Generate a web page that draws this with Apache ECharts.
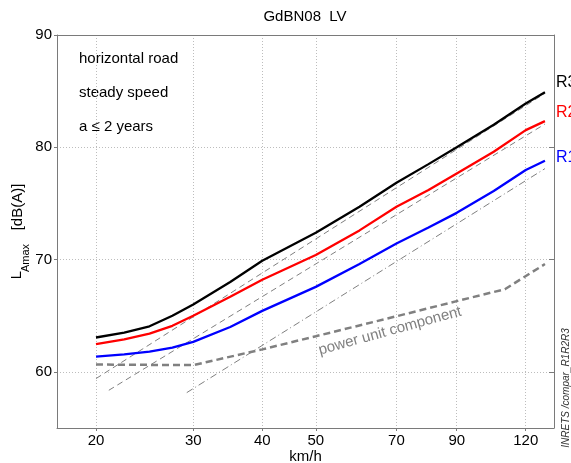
<!DOCTYPE html>
<html>
<head>
<meta charset="utf-8">
<title>GdBN08 LV</title>
<script src="https://cdn.jsdelivr.net/npm/echarts@6.0.0/dist/echarts.min.js"></script>
<style>
  html, body { margin: 0; padding: 0; background: #fff; }
  #chart { width: 571px; height: 463px; }
</style>
</head>
<body>
<div id="chart"></div>
<script>
// speeds (km/h) where the three road curves were read
const speeds = [20, 22.5, 25, 27.5, 30, 35, 40, 50, 60, 70, 80, 90, 105, 120, 130];
const r3 = [63.06, 63.5, 64.06, 65.0, 66.0, 68.0, 69.9, 72.38, 74.7, 76.84, 78.5, 80.0, 82.0, 83.9, 84.9];
const r2 = [62.46, 62.9, 63.4, 64.1, 65.0, 66.68, 68.2, 70.4, 72.6, 74.7, 76.2, 77.67, 79.6, 81.53, 82.33];
const r1 = [61.36, 61.55, 61.8, 62.15, 62.67, 64.0, 65.43, 67.57, 69.6, 71.43, 72.85, 74.16, 76.1, 77.97, 78.8];

// power unit component
const powerSpeeds = [20, 30, 40, 50, 70, 90, 110, 130];
const power = [60.65, 60.6, 62.0, 63.17, 64.95, 66.3, 67.36, 69.6];

// rolling noise asymptotes (thin grey lines)
const rollSpeedsR3 = [20, 130];
const rollR3 = [59.4, 84.8];
const rollSpeedsR2 = [21.1, 130];
const rollR2 = [58.36, 82.07];
const rollSpeedsR1 = [29.2, 130];
const rollR1 = [58.15, 78.1];

const xTicks = [20, 30, 40, 50, 70, 90, 120];
const yTicks = [60, 70, 80, 90];

const FONT = 'Liberation Sans, Arial, sans-serif';
const GREY = '#808080';
const AXIS = '#7a7a7a';
const GRID = '#bdbdbd';

const pairs = (xs, ys) => xs.map((x, i) => [x, ys[i]]);

const thin = (name, xs, ys, type) => ({
  name: name,
  type: 'line',
  data: pairs(xs, ys),
  symbol: 'none',
  silent: true,
  lineStyle: { color: GREY, width: 1, type: type },
  z: 1,
});

const curve = (name, ys, color) => ({
  name: name,
  type: 'line',
  data: pairs(speeds, ys),
  symbol: 'none',
  lineStyle: { color: color, width: 2.3 },
  z: 3,
});

const label = (text, x, y, opts) => ({
  type: 'text',
  x: x,
  y: y,
  rotation: (opts && opts.rotation) || 0,
  style: {
    text: text,
    fill: (opts && opts.color) || '#000',
    fontSize: (opts && opts.size) || 15,
    fontFamily: FONT,
    fontStyle: (opts && opts.italic) ? 'italic' : 'normal',
    textAlign: (opts && opts.align) || 'left',
    align: (opts && opts.align) || 'left',
    textVerticalAlign: 'middle',
    verticalAlign: 'middle',
  },
});

const chart = echarts.init(document.getElementById('chart'));

const option = {
  animation: false,
  backgroundColor: '#fff',
  textStyle: { fontFamily: FONT },
  grid: { left: 57, right: 17, top: 35, bottom: 35, outerBoundsMode: 'none' },
  xAxis: [
    {
      type: 'log',
      logBase: 10,
      min: 17,
      max: 135,
      name: 'km/h',
      nameLocation: 'middle',
      nameGap: 21,
      nameMoveOverlap: false,
      nameTextStyle: { color: '#000', fontSize: 15, fontFamily: FONT },
      axisLine: { onZero: false, lineStyle: { color: AXIS } },
      axisTick: { customValues: xTicks, length: 3, lineStyle: { color: AXIS } },
      axisLabel: { customValues: xTicks, color: '#000', fontSize: 15, fontFamily: FONT, margin: 5 },
      // split lines follow the custom tick values
      splitLine: { show: true, lineStyle: { color: GRID, type: [1, 2], width: 1 } },
      minorTick: { show: false },
      minorSplitLine: { show: false },
    },
    {
      type: 'log',
      logBase: 10,
      min: 17,
      max: 135,
      position: 'top',
      axisLine: { onZero: false, lineStyle: { color: AXIS } },
      axisTick: { show: false },
      axisLabel: { show: false },
      splitLine: { show: false },
    },
  ],
  yAxis: [
    {
      type: 'value',
      min: 55,
      max: 90,
      axisLine: { show: true, onZero: false, lineStyle: { color: AXIS } },
      axisTick: { show: true, customValues: yTicks, length: 3, lineStyle: { color: AXIS } },
      axisLabel: { customValues: yTicks, color: '#000', fontSize: 15, fontFamily: FONT, margin: 5 },
      splitLine: { show: true, lineStyle: { color: GRID, type: [1, 2] } },
    },
    {
      type: 'value',
      min: 55,
      max: 90,
      position: 'right',
      axisLine: { show: true, onZero: false, lineStyle: { color: AXIS } },
      axisTick: { show: true, inside: true, customValues: yTicks, length: 5, lineStyle: { color: AXIS } },
      axisLabel: { show: false },
      splitLine: { show: false },
    },
  ],
  series: [
    thin('asym R3', rollSpeedsR3, rollR3, [6, 4]),
    thin('asym R2', rollSpeedsR2, rollR2, [6, 4]),
    thin('asym R1', rollSpeedsR1, rollR1, [7, 3, 1, 3]),
    {
      name: 'power unit component',
      type: 'line',
      data: pairs(powerSpeeds, power),
      symbol: 'none',
      silent: true,
      lineStyle: { color: GREY, width: 2.5, type: [7, 4] },
      z: 2,
    },
    curve('R1', r1, '#0000ff'),
    curve('R2', r2, '#ff0000'),
    curve('R3', r3, '#000000'),
  ],
  graphic: [
    label('GdBN08  LV', 305, 17, { align: 'center' }),
    label('horizontal road', 79, 59),
    label('steady speed', 79, 93),
    label('a \u2264 2 years', 79, 126.5),
    label('R3', 556, 82.5, { size: 16 }),
    label('R2', 556, 112.5, { size: 16, color: '#ff0000' }),
    label('R1', 556, 157.5, { size: 16, color: '#0000ff' }),
    label('power unit component', 390, 331, { align: 'center', color: GREY, rotation: 0.27 }),
    // y axis title: L with subscript Amax
    label('L', 16.5, 275, { align: 'center', rotation: Math.PI / 2 }),
    label('Amax', 26, 258, { align: 'center', size: 11, rotation: Math.PI / 2 }),
    label('[dB(A)]', 17.5, 207, { align: 'center', rotation: Math.PI / 2 }),
    label('INRETS /compar_R1R2R3', 566, 388, { align: 'center', size: 10, italic: true, color: '#333', rotation: Math.PI / 2 }),
  ],
};

chart.setOption(option);
</script>
</body>
</html>
